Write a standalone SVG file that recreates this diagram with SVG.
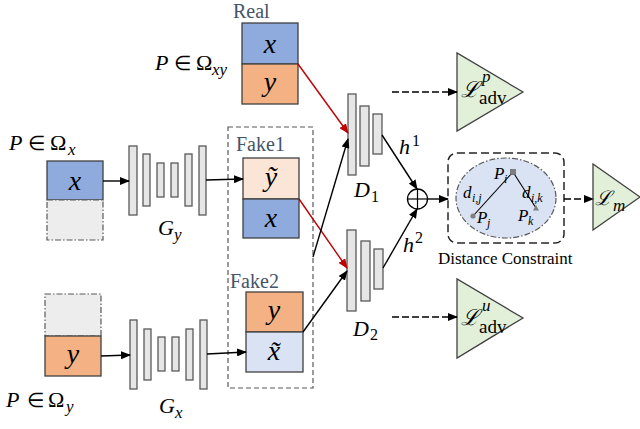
<svg xmlns="http://www.w3.org/2000/svg" width="640" height="429" viewBox="0 0 640 429">
  <defs>
    <marker id="arrow" markerWidth="10" markerHeight="8" refX="9" refY="4" orient="auto" markerUnits="userSpaceOnUse">
      <path d="M0,0 L10,4 L0,8 Z" fill="#000"/>
    </marker>
    <marker id="arrowRed" markerWidth="10" markerHeight="8" refX="9" refY="4" orient="auto" markerUnits="userSpaceOnUse">
      <path d="M0,0 L10,4 L0,8 Z" fill="#c00000"/>
    </marker>
    <style>
      .tag { font-size: 20px; fill: #44546a; }
      .bar { fill: #e7e6e6; stroke: #595959; stroke-width: 1.3; }
      .blue { fill: #8faadc; stroke: #404040; stroke-width: 1.3; }
      .orange { fill: #f4b183; stroke: #404040; stroke-width: 1.3; }
      .lorange { fill: #fbe5d6; stroke: #404040; stroke-width: 1.3; }
      .lblue { fill: #dae3f3; stroke: #404040; stroke-width: 1.3; }
      .empty { fill: #ededed; stroke: #595959; stroke-width: 1.2; stroke-dasharray: 6 2 1.5 2; }
      .tri { fill: #e2f0d9; stroke: #404040; stroke-width: 1.3; }
      .box-letter { font-size: 28px; text-anchor: middle; font-style: italic; }
      .line { stroke: #000; stroke-width: 1.4; fill: none; }
      .red { stroke: #c00000; stroke-width: 1.4; fill: none; }
      .dash { stroke: #000; stroke-width: 1.4; fill: none; stroke-dasharray: 7 3; }
    </style>
  </defs>

  <!-- paired input: real sample -->
  <g id="real">
    <text class="tag" x="233" y="18" font-family="'Liberation Serif', serif">Real</text>
    <rect class="blue" x="242" y="23" width="56" height="41"/>
    <rect class="orange" x="242" y="64" width="56" height="40"/>
    <text class="box-letter" x="270" y="53" font-family="'Liberation Serif', serif">x</text>
    <text class="box-letter" x="270" y="91" font-family="'Liberation Serif', serif">y</text>
    <text font-size="22" font-family="'Liberation Serif', serif"><tspan font-style="italic" x="155" y="70">P</tspan><tspan x="174" y="70" font-size="20">∈</tspan><tspan x="196" y="70">Ω</tspan><tspan font-style="italic" x="212" y="75" font-size="17">xy</tspan></text>
  </g>

  <!-- unpaired input x -->
  <g id="input-x">
    <text font-size="22" font-family="'Liberation Serif', serif"><tspan font-style="italic" x="9" y="150">P</tspan><tspan x="28" y="150" font-size="20">∈</tspan><tspan x="50" y="150">Ω</tspan><tspan font-style="italic" x="68" y="155" font-size="17">x</tspan></text>
    <rect class="blue" x="47" y="161" width="56" height="39"/>
    <rect class="empty" x="47" y="200" width="56" height="40"/>
    <text class="box-letter" x="75" y="190" font-family="'Liberation Serif', serif">x</text>
  </g>

  <!-- unpaired input y -->
  <g id="input-y">
    <rect class="empty" x="45" y="294" width="56" height="42"/>
    <rect class="orange" x="45" y="336" width="56" height="40"/>
    <text class="box-letter" x="73" y="363" font-family="'Liberation Serif', serif">y</text>
    <text font-size="22" font-family="'Liberation Serif', serif"><tspan font-style="italic" x="6" y="407">P</tspan><tspan x="27" y="407" font-size="20">∈</tspan><tspan x="48" y="407">Ω</tspan><tspan font-style="italic" x="66" y="412" font-size="17">y</tspan></text>
  </g>

  <!-- generator G_y -->
  <g id="gen-y">
    <rect class="bar" x="129" y="146" width="8" height="69"/>
    <rect class="bar" x="143" y="154" width="7" height="52"/>
    <rect class="bar" x="157" y="163" width="7" height="34"/>
    <rect class="bar" x="171" y="163" width="7" height="34"/>
    <rect class="bar" x="185" y="154" width="7" height="52"/>
    <rect class="bar" x="199" y="146" width="7" height="69"/>
    <text font-size="22" font-family="'Liberation Serif', serif" font-style="italic"><tspan x="158" y="235">G</tspan><tspan x="174" y="240" font-size="17">y</tspan></text>
  </g>

  <!-- generator G_x -->
  <g id="gen-x">
    <rect class="bar" x="130" y="320" width="7" height="69"/>
    <rect class="bar" x="144" y="329" width="7" height="51"/>
    <rect class="bar" x="158" y="337" width="7" height="34"/>
    <rect class="bar" x="172" y="337" width="7" height="34"/>
    <rect class="bar" x="186" y="329" width="7" height="51"/>
    <rect class="bar" x="200" y="320" width="7" height="69"/>
    <text font-size="22" font-family="'Liberation Serif', serif" font-style="italic"><tspan x="159" y="413">G</tspan><tspan x="175" y="418" font-size="17">x</tspan></text>
  </g>

  <!-- generated pairs -->
  <g id="fake-group">
    <rect x="228" y="127" width="85" height="261" fill="none" stroke="#595959" stroke-width="1.2" stroke-dasharray="5 3"/>
  </g>
  <g id="fake1">
    <text class="tag" x="236" y="151" font-family="'Liberation Serif', serif">Fake1</text>
    <rect class="lorange" x="243" y="158" width="56" height="41"/>
    <rect class="blue" x="243" y="199" width="56" height="39"/>
    <text class="box-letter" x="271" y="186" font-family="'Liberation Serif', serif">ỹ</text>
    <text class="box-letter" x="271" y="227" font-family="'Liberation Serif', serif">x</text>
  </g>
  <g id="fake2">
    <text class="tag" x="230" y="288" font-family="'Liberation Serif', serif">Fake2</text>
    <rect class="orange" x="246" y="292" width="57" height="40"/>
    <rect class="lblue" x="246" y="332" width="57" height="40"/>
    <text class="box-letter" x="274" y="319" font-family="'Liberation Serif', serif">y</text>
    <text class="box-letter" x="274" y="360" font-family="'Liberation Serif', serif">x̃</text>
  </g>

  <!-- discriminator D_1 -->
  <g id="disc-1">
    <rect class="bar" x="348" y="94" width="8" height="81"/>
    <rect class="bar" x="360" y="106" width="9" height="60"/>
    <rect class="bar" x="373" y="114" width="9" height="40"/>
    <text font-size="22" font-family="'Liberation Serif', serif"><tspan font-style="italic" x="354" y="197">D</tspan><tspan x="371" y="202" font-size="16">1</tspan></text>
  </g>

  <!-- discriminator D_2 -->
  <g id="disc-2">
    <rect class="bar" x="347" y="230" width="9" height="81"/>
    <rect class="bar" x="361" y="241" width="9" height="60"/>
    <rect class="bar" x="374" y="249" width="9" height="40"/>
    <text font-size="22" font-family="'Liberation Serif', serif"><tspan font-style="italic" x="353" y="336">D</tspan><tspan x="370" y="340" font-size="16">2</tspan></text>
  </g>

  <!-- feature fusion -->
  <g id="fusion">
    <circle cx="417.5" cy="199" r="10" fill="#fff" stroke="#000" stroke-width="1.3"/>
    <line x1="407.5" y1="199" x2="427.5" y2="199" stroke="#000" stroke-width="1.2"/>
    <line x1="417.5" y1="189" x2="417.5" y2="209" stroke="#000" stroke-width="1.2"/>
  </g>

  <!-- distance constraint module -->
  <g id="distance-constraint">
    <rect x="448" y="153" width="116" height="90" rx="9" fill="none" stroke="#262626" stroke-width="1.5" stroke-dasharray="8 4"/>
    <ellipse cx="506" cy="198" rx="50" ry="40" fill="#dae3f3" stroke="#595959" stroke-width="1.2" stroke-dasharray="6 2 1.5 2"/>
    <line x1="513" y1="172" x2="473" y2="216" stroke="#000" stroke-width="1.1"/>
    <line x1="513" y1="172" x2="536" y2="208" stroke="#000" stroke-width="1.1"/>
    <rect x="510.5" y="169.5" width="5" height="5" fill="#7f7f7f" stroke="#595959" stroke-width="0.6"/>
    <circle cx="473" cy="216" r="2.6" fill="#7f7f7f"/>
    <path d="M536,205 L539,210.5 L533,210.5 Z" fill="#7f7f7f"/>
    <g font-family="'Liberation Serif', serif" font-style="italic" font-size="17">
      <text><tspan x="494" y="179">P</tspan><tspan x="504" y="183" font-size="12">i</tspan></text>
      <text><tspan x="463" y="198">d</tspan><tspan x="472" y="202" font-size="12">i,j</tspan></text>
      <text><tspan x="522" y="198">d</tspan><tspan x="531" y="202" font-size="12">i,k</tspan></text>
      <text><tspan x="477" y="223">P</tspan><tspan x="487" y="227" font-size="12">j</tspan></text>
      <text><tspan x="518" y="221">P</tspan><tspan x="528" y="225" font-size="12">k</tspan></text>
    </g>
    <text x="438" y="264" font-size="17" font-family="'Liberation Serif', serif">Distance Constraint</text>
  </g>

  <!-- loss terms -->
  <g id="loss-adv-p">
    <path class="tri" d="M457,53 L457,131 L523,92 Z"/>
    <text font-size="22" font-family="'Liberation Serif', serif"><tspan font-style="italic" x="461" y="97">ℒ</tspan><tspan font-style="italic" x="482" y="82" font-size="17">p</tspan><tspan x="479" y="104" font-size="19">adv</tspan></text>
  </g>
  <g id="loss-adv-u">
    <path class="tri" d="M457,279 L457,358 L523,318 Z"/>
    <text font-size="22" font-family="'Liberation Serif', serif"><tspan font-style="italic" x="461" y="325">ℒ</tspan><tspan font-style="italic" x="482" y="311" font-size="17">u</tspan><tspan x="479" y="333" font-size="19">adv</tspan></text>
  </g>
  <g id="loss-m">
    <path class="tri" d="M593,164 L593,230 L640,197 Z"/>
    <text font-size="20" font-family="'Liberation Serif', serif" font-style="italic"><tspan x="595" y="205">ℒ</tspan><tspan x="613" y="211" font-size="17">m</tspan></text>
  </g>

  <!-- connectors -->
  <g id="connectors">
    <line class="line" x1="103" y1="181" x2="129" y2="181" marker-end="url(#arrow)"/>
    <line class="line" x1="206" y1="180" x2="243" y2="179" marker-end="url(#arrow)"/>
    <line class="line" x1="101" y1="356" x2="130" y2="355" marker-end="url(#arrow)"/>
    <line class="line" x1="207" y1="354" x2="246" y2="352" marker-end="url(#arrow)"/>
    <line class="red" x1="298" y1="64" x2="348" y2="133" marker-end="url(#arrowRed)"/>
    <line class="red" x1="299" y1="199" x2="347" y2="268" marker-end="url(#arrowRed)"/>
    <line class="line" x1="313" y1="257" x2="348" y2="139" marker-end="url(#arrow)"/>
    <line class="line" x1="303" y1="332" x2="347" y2="271" marker-end="url(#arrow)"/>
    <line class="line" x1="382" y1="135" x2="417" y2="189" marker-end="url(#arrow)"/>
    <line class="line" x1="383" y1="268" x2="417" y2="209" marker-end="url(#arrow)"/>
    <line class="line" x1="427.5" y1="199" x2="448" y2="199" marker-end="url(#arrow)"/>
    <line class="dash" x1="392" y1="92" x2="457" y2="92" marker-end="url(#arrow)"/>
    <line class="dash" x1="392" y1="317" x2="457" y2="317" marker-end="url(#arrow)"/>
    <line class="dash" x1="564" y1="199" x2="593" y2="199" marker-end="url(#arrow)"/>
    <text font-size="22" font-family="'Liberation Serif', serif"><tspan font-style="italic" x="399" y="154">h</tspan><tspan x="412" y="146" font-size="16">1</tspan></text>
    <text font-size="22" font-family="'Liberation Serif', serif"><tspan font-style="italic" x="403" y="252">h</tspan><tspan x="415" y="243" font-size="16">2</tspan></text>
  </g>
</svg>
